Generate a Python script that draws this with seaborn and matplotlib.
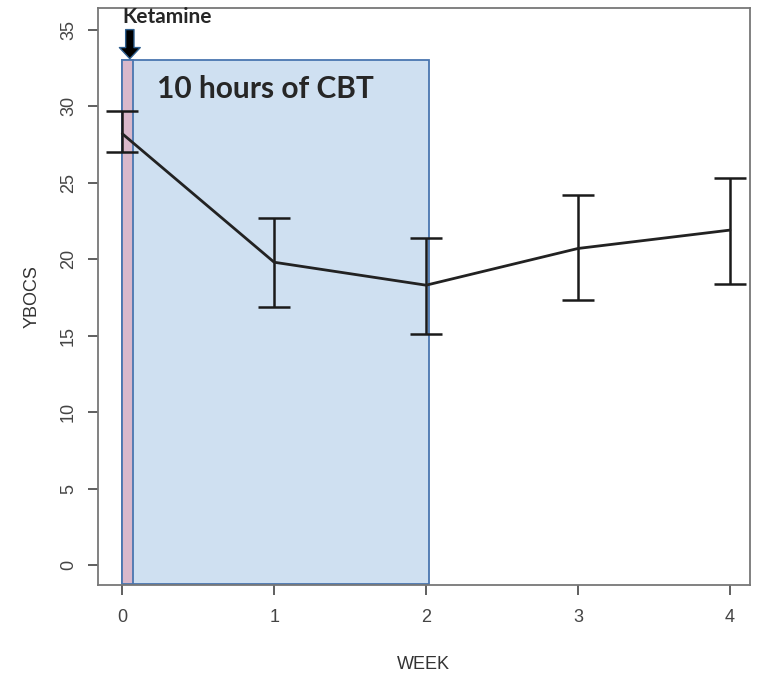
import pandas as pd
import seaborn as sns
import matplotlib.pyplot as plt
from matplotlib.patches import Rectangle

# data
weeks = [0, 1, 2, 3, 4]
ybocs_mean = [28.2, 19.8, 18.3, 20.7, 21.9]
ybocs_low = [27.0, 16.9, 15.1, 17.3, 18.4]
ybocs_high = [29.7, 22.7, 21.4, 24.2, 25.3]

df = pd.DataFrame({'WEEK': weeks, 'YBOCS': ybocs_mean})

sns.set_style('ticks')
plt.rcParams['font.family'] = ['Liberation Sans', 'DejaVu Sans']

fig = plt.figure(figsize=(7.65, 6.82), dpi=100)
ax = fig.add_axes([0.128, 0.142, 0.852, 0.846])

# CBT block and ketamine strip
ax.add_patch(Rectangle((0, -1.2), 2.02, 34.2, facecolor='#cfe0f1',
                       edgecolor='#4a76b0', linewidth=1.3, zorder=1))
ax.add_patch(Rectangle((0, -1.2), 0.07, 34.2, facecolor='#d9b8cb',
                       edgecolor='#4a76b0', linewidth=1.3, zorder=2))

# error bars + mean line
yerr = [[m - l for m, l in zip(ybocs_mean, ybocs_low)],
        [h - m for m, h in zip(ybocs_mean, ybocs_high)]]
ax.errorbar(weeks, ybocs_mean, yerr=yerr, fmt='none', ecolor='#1a1a1a',
            elinewidth=1.8, capsize=11.5, capthick=1.8, zorder=3)
sns.lineplot(data=df, x='WEEK', y='YBOCS', color='#222222', linewidth=2,
             ax=ax, zorder=4)

ax.set_xlim(-0.16, 4.13)
ax.set_ylim(-1.3, 36.4)
ax.set_xticks(weeks)
ax.set_yticks(range(0, 36, 5))
ax.tick_params(axis='both', colors='#444444', labelsize=13, length=7, width=1.2)
for lbl in ax.get_yticklabels():
    lbl.set_rotation(90)
    lbl.set_va('center')
ax.tick_params(axis='x', pad=10)
ax.tick_params(axis='y', pad=8)
for s in ax.spines.values():
    s.set_color('#777777')
    s.set_linewidth(1.3)
ax.set_xlabel('WEEK', fontsize=13, color='#333333', labelpad=22)
ax.set_ylabel('YBOCS', fontsize=13, color='#333333', labelpad=14)

# annotations
ax.annotate('', xy=(0.05, 33.1), xytext=(0.05, 35.0),
            arrowprops=dict(facecolor='black', edgecolor='#2f5f8f',
                            width=6, headwidth=15, headlength=8),
            annotation_clip=False, zorder=5)
ax.text(0.0, 35.85, 'Ketamine', fontsize=15, fontweight='bold',
        family=['Lato', 'DejaVu Sans'], ha='left', va='center', zorder=5)
ax.text(0.23, 31.1, '10 hours of CBT', fontsize=21.5, fontweight='bold',
        family=['Lato', 'DejaVu Sans'], ha='left', va='center', zorder=5)

plt.savefig('out.png', dpi=100)
